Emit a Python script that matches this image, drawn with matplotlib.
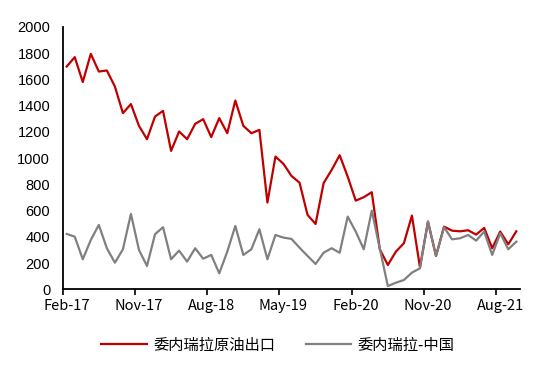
import matplotlib
matplotlib.use('Agg')
import matplotlib.pyplot as plt

plt.rcParams['font.family'] = ['Noto Sans CJK SC', 'DejaVu Sans']

# 月度数据 Feb-17 ~ Oct-21（千桶/日）
months = ['Feb-17', 'Nov-17', 'Aug-18', 'May-19', 'Feb-20', 'Nov-20', 'Aug-21']
exports = [1698, 1770, 1580, 1795, 1660, 1668, 1546, 1343, 1412, 1246,
           1144, 1317, 1360, 1055, 1203, 1144, 1261, 1297, 1160, 1305,
           1190, 1439, 1246, 1190, 1215, 661, 1012, 956, 864, 813,
           567, 498, 809, 910, 1022, 859, 676, 702, 740, 305,
           185, 287, 351, 562, 168, 516, 254, 478, 447, 442,
           450, 417, 468, 313, 440, 343, 442]
china = [422, 401, 229, 376, 491, 313, 203, 305, 575, 300,
         178, 420, 473, 229, 295, 211, 313, 233, 262, 122,
         287, 483, 262, 305, 458, 229, 414, 394, 384, 317,
         254, 193, 279, 313, 279, 554, 440, 305, 600, 310,
         25, 50, 71, 127, 160, 516, 254, 473, 381, 389,
         414, 371, 440, 262, 427, 305, 363]

x = [i + 0.5 for i in range(len(exports))]

fig = plt.figure(figsize=(5.5, 3.69), dpi=100)
ax = fig.add_axes([0.114, 0.216, 0.832, 0.711])

ax.plot(x, exports, color='#C00000', lw=1.6, label='委内瑞拉原油出口')
ax.plot(x, china, color='#808080', lw=1.6, label='委内瑞拉-中国')

ax.set_xlim(0, len(exports))
ax.set_ylim(0, 2000)
ax.set_yticks(range(0, 2001, 200))
ax.set_yticklabels([str(v) for v in range(0, 2001, 200)],
                   family='Liberation Sans', fontsize=10.5)

# 刻度在类别边界，标签在类别中间
ax.set_xticks(range(0, 55, 9))
ax.set_xticklabels([])
ax.set_xticks([i + 0.5 for i in range(0, 55, 9)], minor=True)
ax.set_xticklabels(months, minor=True, fontsize=10.5)
ax.tick_params(axis='x', which='major', length=4, width=1.2, direction='out')
ax.tick_params(axis='x', which='minor', length=0, pad=7)
ax.tick_params(axis='y', length=0, pad=9)

for s in ['top', 'right']:
    ax.spines[s].set_visible(False)
for s in ['left', 'bottom']:
    ax.spines[s].set_linewidth(1.3)

fig.legend(loc='center', bbox_to_anchor=(0.505, 0.065), ncol=2, frameon=False,
           fontsize=11, handlelength=3.0, handletextpad=0.4, columnspacing=2.0)

plt.savefig('out.png', dpi=100)
plt.close()
